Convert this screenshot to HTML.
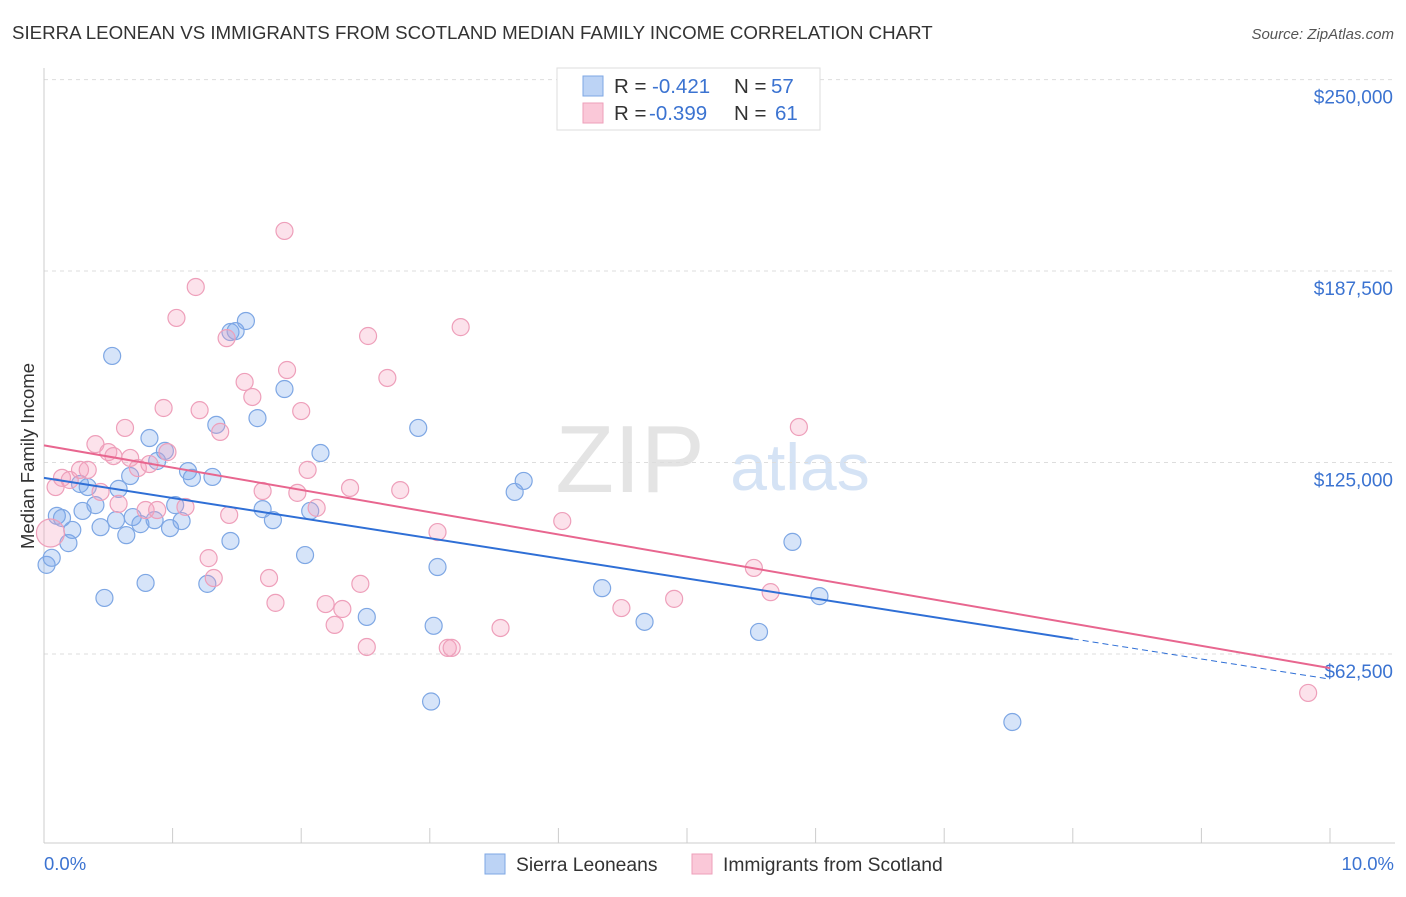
<!DOCTYPE html>
<html><head><meta charset="utf-8"><style>
body{margin:0;background:#fff;font-family:"Liberation Sans",sans-serif;}
svg text{font-family:"Liberation Sans",sans-serif;}
</style></head><body>
<svg id="c" width="1406" height="892" xmlns="http://www.w3.org/2000/svg">
<text x="12" y="39" font-size="18.7" fill="#333">SIERRA LEONEAN VS IMMIGRANTS FROM SCOTLAND MEDIAN FAMILY INCOME CORRELATION CHART</text>
<text x="1394" y="39" font-size="15" fill="#555" text-anchor="end" font-style="italic">Source: ZipAtlas.com</text>
<text x="630" y="492" font-size="96" fill="#e4e4e4" font-family="Liberation Serif" text-anchor="middle">ZIP</text>
<text x="800" y="490" font-size="66" fill="#d5e3f5" text-anchor="middle">atlas</text>
<g id="grid"></g><g id="marks"></g>
<text transform="translate(34,456) rotate(-90)" font-size="18.5" fill="#333" text-anchor="middle">Median Family Income</text>
<text x="44" y="870" font-size="18.5" fill="#3b73d1">0.0%</text>
<text x="1394" y="870" font-size="18.5" fill="#3b73d1" text-anchor="end">10.0%</text>
<g>
<rect x="485" y="854" width="20" height="20" fill="#bcd3f5" stroke="#7ea7e4"/>
<text x="516" y="871" font-size="19.3" fill="#333">Sierra Leoneans</text>
<rect x="692" y="854" width="20" height="20" fill="#fac8d8" stroke="#ee9fba"/>
<text x="723" y="871" font-size="19.3" fill="#333">Immigrants from Scotland</text>
</g>
<g>
<rect x="557" y="68" width="263" height="62" fill="#fff" stroke="#ddd"/>
<rect x="583" y="76" width="20" height="20" fill="#bcd3f5" stroke="#7ea7e4"/>
<text x="614" y="93" font-size="20.5" fill="#333">R = </text><text x="652" y="93" font-size="20.5" fill="#3b73d1">-0.421</text>
<text x="734" y="93" font-size="20.5" fill="#333">N = </text><text x="771" y="93" font-size="20.5" fill="#3b73d1">57</text>
<rect x="583" y="103" width="20" height="20" fill="#fac8d8" stroke="#ee9fba"/>
<text x="614" y="120" font-size="20.5" fill="#333">R = </text><text x="649" y="120" font-size="20.5" fill="#3b73d1">-0.399</text>
<text x="734" y="120" font-size="20.5" fill="#333">N = </text><text x="775" y="120" font-size="20.5" fill="#3b73d1">61</text>
</g>
</svg>
<script>
const yTicks=[62500,125000,187500,250000];
const yTickLabels=["$62,500","$125,000","$187,500","$250,000"];
const xTicks=[0,1,2,3,4,5,6,7,8,9,10];
const blueX=[0.02,0.06,0.10,0.14,0.19,0.22,0.28,0.30,0.34,0.40,0.44,0.47,0.53,0.56,0.58,0.64,0.67,0.69,0.75,0.79,0.82,0.86,0.88,0.94,0.98,1.02,1.07,1.12,1.15,1.27,1.31,1.34,1.45,1.45,1.49,1.57,1.66,1.70,1.78,1.87,2.07,2.03,2.15,2.51,2.91,3.03,3.06,3.01,3.66,3.73,4.34,4.67,5.56,5.82,6.03,7.53];
const blueY=[91.6,93.9,107.6,106.9,98.7,103.0,118.0,109.2,117.0,111.1,103.9,80.8,159.8,106.2,116.4,101.3,120.6,107.2,104.9,85.7,133.0,106.2,125.5,128.8,103.6,111.1,105.9,122.2,120.0,85.4,120.3,137.3,99.4,167.6,167.9,171.2,139.5,109.8,106.2,149.0,109.2,94.8,128.1,74.6,136.3,71.7,90.9,47.0,115.4,119.0,84.0,73.0,69.7,99.1,81.4,40.3];
const pinkX=[0.05,0.09,0.14,0.20,0.28,0.34,0.40,0.44,0.50,0.54,0.58,0.63,0.67,0.73,0.79,0.82,0.88,0.93,0.96,1.03,1.10,1.18,1.21,1.28,1.32,1.37,1.44,1.42,1.56,1.62,1.70,1.75,1.80,1.87,1.89,1.97,2.00,2.05,2.12,2.19,2.26,2.32,2.38,2.46,2.51,2.52,2.67,2.77,3.06,3.14,3.17,3.24,3.55,4.03,4.49,4.90,5.52,5.65,5.87,9.83];
const pinkY=[102.0,117.0,120.0,119.3,122.6,122.6,131.0,115.4,128.4,127.1,111.5,136.3,126.5,123.2,109.5,124.5,109.5,142.8,128.4,172.2,110.5,182.3,142.1,93.8,87.3,135.0,107.9,165.6,151.3,146.4,115.7,87.3,79.2,200.6,155.2,115.1,141.8,122.6,110.2,78.8,72.0,77.2,116.7,85.4,64.8,166.3,152.6,116.0,102.3,64.5,64.5,169.2,71.0,105.9,77.5,80.5,90.6,82.7,136.6,49.8];
const blueTrend=[120.0,54.3];
const pinkTrend=[130.6,57.9];
const NS="http://www.w3.org/2000/svg";
const X=v=>44+v*128.6;
const Y=k=>845.5-k/0.3264;
function mk(t,a,p){const e=document.createElementNS(NS,t);for(const k in a)e.setAttribute(k,a[k]);p.appendChild(e);return e;}
const g=document.getElementById('grid'),m=document.getElementById('marks');
yTicks.forEach((v,i)=>{
 const l=mk('line',{x1:44,x2:1395,y1:Y(v/1000),y2:Y(v/1000),stroke:'#ddd','stroke-dasharray':'4,4'},g);
 
 
 const t=mk('text',{x:1393,y:Y(v/1000)+24,'font-size':19,fill:'#3b73d1','text-anchor':'end'},g);
 t.textContent=yTickLabels[i];
 
 
});
mk('line',{x1:44,x2:44,y1:68,y2:843,stroke:'#ccc'},g);
mk('line',{x1:44,x2:1395,y1:843,y2:843,stroke:'#ccc'},g);
xTicks.forEach(v=>{const l=mk('line',{x1:X(v),x2:X(v),y1:828,y2:843,stroke:'#ccc'},g);
 
 });
blueX.forEach((x,i)=>{const c=mk('circle',{cx:X(x),cy:Y(blueY[i]),r:8.5,fill:'rgba(120,165,235,0.3)',stroke:'#7ea7e4','stroke-width':1.2},m);
 
 });
pinkX.forEach((x,i)=>{const c=mk('circle',{cx:X(x),cy:Y(pinkY[i]),r:i==0?14:8.5,fill:'rgba(245,160,190,0.3)',stroke:'#ee9fba','stroke-width':1.2},m);
 
 });
const bAt=x=>blueTrend[0]+(blueTrend[1]-blueTrend[0])*x/10;
let l=mk('line',{x1:X(0),y1:Y(bAt(0)),x2:X(8),y2:Y(bAt(8)),stroke:'#2f6fd6','stroke-width':2},m);


l=mk('line',{x1:X(8),y1:Y(bAt(8)),x2:X(10),y2:Y(bAt(10)),stroke:'#2f6fd6','stroke-width':1,'stroke-dasharray':'6,4'},m);


l=mk('line',{x1:X(0),y1:Y(pinkTrend[0]),x2:X(10),y2:Y(pinkTrend[1]),stroke:'#e8668f','stroke-width':2},m);


</script>
</body></html>
